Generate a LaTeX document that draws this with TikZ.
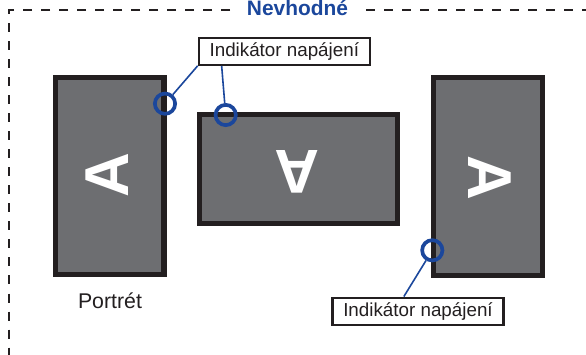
\documentclass[tikz,border=0pt]{standalone}
\usepackage{fontspec}
\setmainfont{Liberation Sans}
\usetikzlibrary{calc}
\definecolor{bluec}{HTML}{1B479C}
\definecolor{darkc}{HTML}{231F20}
\definecolor{grayc}{HTML}{6D6E71}
\tikzset{
  monitor/.style={draw=darkc,fill=grayc,line width=5.3pt,inner sep=0pt},
  bigA/.style={text=white,inner sep=0pt,font=\fontsize{62}{62}\selectfont\bfseries},
  ring/.style={circle,draw=bluec,line width=3.7pt,minimum size=20.3pt,inner sep=0pt},
  lead/.style={draw=bluec,line width=1.6pt},
  callout/.style={draw=darkc,fill=white,line width=2.3pt,inner sep=0pt,minimum width=171pt,minimum height=27pt,text=darkc,font=\fontsize{18.8}{18.8}\selectfont},
  frameline/.style={draw=darkc,line width=2pt,dash pattern=on 9pt off 9pt},
}
\begin{document}
\begin{tikzpicture}[x=1pt,y=-1pt]
\useasboundingbox (0,0) rectangle (586,355);
\fill[white] (0,0) rectangle (586,355);
% frame
\node[text=bluec,inner sep=0pt,font=\fontsize{20.9}{20.9}\selectfont\bfseries] (title) at (297.5,8) {Nevhodné};
\coordinate (fa) at (230,10.5);
\coordinate (fb) at (9,10.5);
\coordinate (fc) at (9,355);
\coordinate (fd) at (366,10.5);
\coordinate (fe) at (586,10.5);
\draw[frameline] (fa) -- (fb) -- (fc);
\draw[frameline] (fd) -- (fe);
% monitors
\node[monitor,minimum width=108.7pt,minimum height=196.7pt] (m1) at (109.5,176) {};
\node[monitor,minimum width=197.7pt,minimum height=108.7pt] (m2) at (298.5,169) {};
\node[monitor,minimum width=108.7pt,minimum height=197.7pt] (m3) at (488,176.5) {};
\node[bigA,rotate=90] (a1) at (106.7,175.3) {A};
\node[bigA,rotate=180] (a2) at (297,172) {A};
\node[bigA,rotate=-90] (a3) at (490,178) {A};
% callouts
\node[callout] (l1) at (284.3,51.2) {Indikátor napájení};
\node[callout] (l2) at (418,311.2) {Indikátor napájení};
\node[text=darkc,inner sep=0pt,font=\fontsize{21.3}{21.3}\selectfont] (p1) at (110,300.5) {Portrét};
% rings
\node[ring] (r1) at (165,103.7) {};
\node[ring] (r2) at (225.7,115) {};
\node[ring] (r3) at (432.3,250.3) {};
% leaders
\coordinate (s2) at ($(l1.south west)+(24,0)$);
\coordinate (s3) at ($(l2.north west)+(72.5,0)$);
\draw[lead] (l1.south west) -- (r1);
\draw[lead] (s2) -- (r2);
\draw[lead] (s3) -- (r3);
\end{tikzpicture}
\end{document}
